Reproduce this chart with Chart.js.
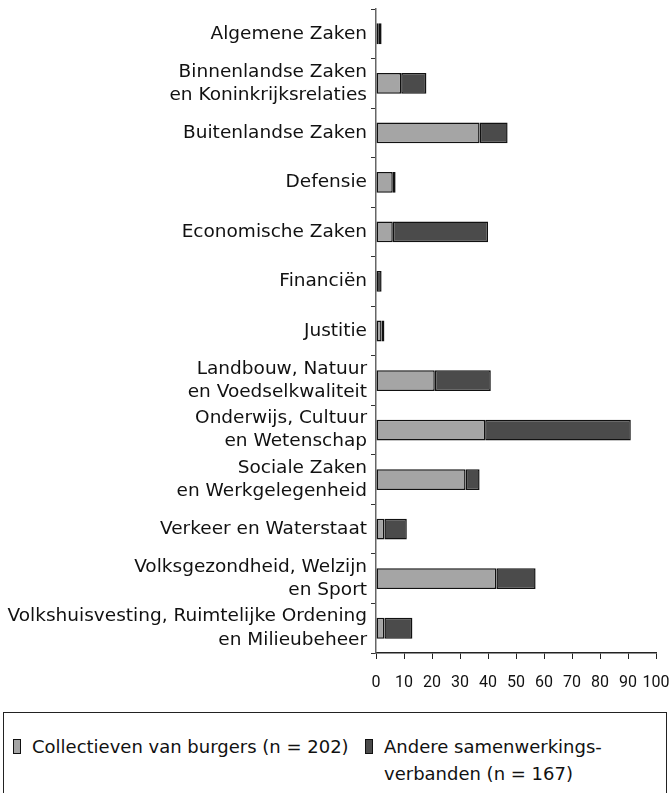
<!DOCTYPE html>
<html>
<head>
<meta charset="utf-8">
<script src="https://cdn.jsdelivr.net/npm/chart.js@4.4.1/dist/chart.umd.min.js"></script>
<style>
  html, body { margin: 0; padding: 0; background: #fff; width: 672px; height: 793px; overflow: hidden; }
  #wrap { position: relative; width: 672px; height: 793px; }
  #chartBox { position: absolute; left: 0; top: 0; width: 672px; height: 700px; }
  #legend { position: absolute; left: 3px; top: 712px; width: 664px; height: 100px; border: 1px solid #222; box-sizing: border-box;
            font-family: 'DejaVu Sans', sans-serif; font-size: 18px; color: #111; }
  .item { position: absolute; top: 20px; line-height: 27px; }
  .sw { position: absolute; left: 0; top: 6px; width: 8px; height: 15px; border: 1.5px solid #111; box-sizing: border-box; }
  .txt { position: absolute; left: 19px; top: 0; white-space: nowrap; }
</style>
</head>
<body>
<div id="wrap">
  <div id="chartBox"><canvas id="c"></canvas></div>
  <div id="legend">
    <div class="item" style="left:9px;"><span class="sw" id="sw1"></span><span class="txt" id="lg1"></span></div>
    <div class="item" style="left:361px;"><span class="sw" id="sw2"></span><span class="txt" id="lg2"></span></div>
  </div>
</div>
<script>
const categories = [
  "Algemene Zaken",
  ["Binnenlandse Zaken", "en Koninkrijksrelaties"],
  "Buitenlandse Zaken",
  "Defensie",
  "Economische Zaken",
  "Financiën",
  "Justitie",
  ["Landbouw, Natuur", "en Voedselkwaliteit"],
  ["Onderwijs, Cultuur", "en Wetenschap"],
  ["Sociale Zaken", "en Werkgelegenheid"],
  "Verkeer en Waterstaat",
  ["Volksgezondheid, Welzijn", "en Sport"],
  ["Volkshuisvesting, Ruimtelijke Ordening", "en Milieubeheer"]
];
const collectieven = [1, 9, 37, 6, 6, 0, 2, 21, 39, 32, 3, 43, 3];
const andere = [1, 9, 10, 1, 34, 2, 1, 20, 52, 5, 8, 14, 10];
const seriesNames = ["Collectieven van burgers (n = 202)", ["Andere samenwerkings-", "verbanden (n = 167)"]];
const xTicks = [0, 10, 20, 30, 40, 50, 60, 70, 80, 90, 100];

const lightColor = '#a5a5a5';
const darkColor = '#4b4b4b';

document.getElementById('lg1').innerHTML = seriesNames[0];
document.getElementById('lg2').innerHTML = seriesNames[1].join('<br>');
document.getElementById('sw1').style.background = lightColor;
document.getElementById('sw2').style.background = darkColor;

new Chart(document.getElementById('c'), {
  type: 'bar',
  data: {
    labels: categories,
    datasets: [
      { label: 'Collectieven van burgers (n = 202)', data: collectieven, backgroundColor: lightColor,
        borderColor: '#111', borderWidth: 1.5, borderSkipped: false, barPercentage: 0.42, categoryPercentage: 1 },
      { label: 'Andere samenwerkingsverbanden (n = 167)', data: andere, backgroundColor: darkColor,
        borderColor: '#111', borderWidth: 1.5, borderSkipped: false, barPercentage: 0.42, categoryPercentage: 1 }
    ]
  },
  options: {
    indexAxis: 'y',
    responsive: true,
    maintainAspectRatio: false,
    animation: false,
    layout: { padding: { top: 9, right: 16, left: 0, bottom: 0 } },
    plugins: { legend: { display: false }, tooltip: { enabled: false } },
    scales: {
      x: {
        stacked: true, min: 0, max: 100,
        afterBuildTicks: (s) => { s.ticks = xTicks.map(v => ({ value: v })); },
        ticks: { color: '#111', padding: 14, maxRotation: 0, autoSkip: false,
          font: { family: "'Liberation Sans Narrow', 'Roboto', sans-serif", size: 16 } },
        grid: { drawOnChartArea: false, tickLength: 6, color: '#222', lineWidth: 1 },
        border: { color: '#222', width: 1.5 },
        afterFit: (s) => { s.height = 47; s.paddingLeft = 0; s.paddingRight = 0; }
      },
      y: {
        stacked: true,
        ticks: { color: '#111', padding: 4, autoSkip: false,
          font: { family: "'DejaVu Sans', sans-serif", size: 18.5, lineHeight: 1.25 } },
        grid: { offset: true, drawOnChartArea: false, tickLength: 5, color: '#333', lineWidth: 1 },
        border: { color: '#666', width: 1.5 },
        afterFit: (s) => { s.width = 376; s.paddingTop = 0; s.paddingBottom = 0; }
      }
    }
  }
});
</script>
</body>
</html>
